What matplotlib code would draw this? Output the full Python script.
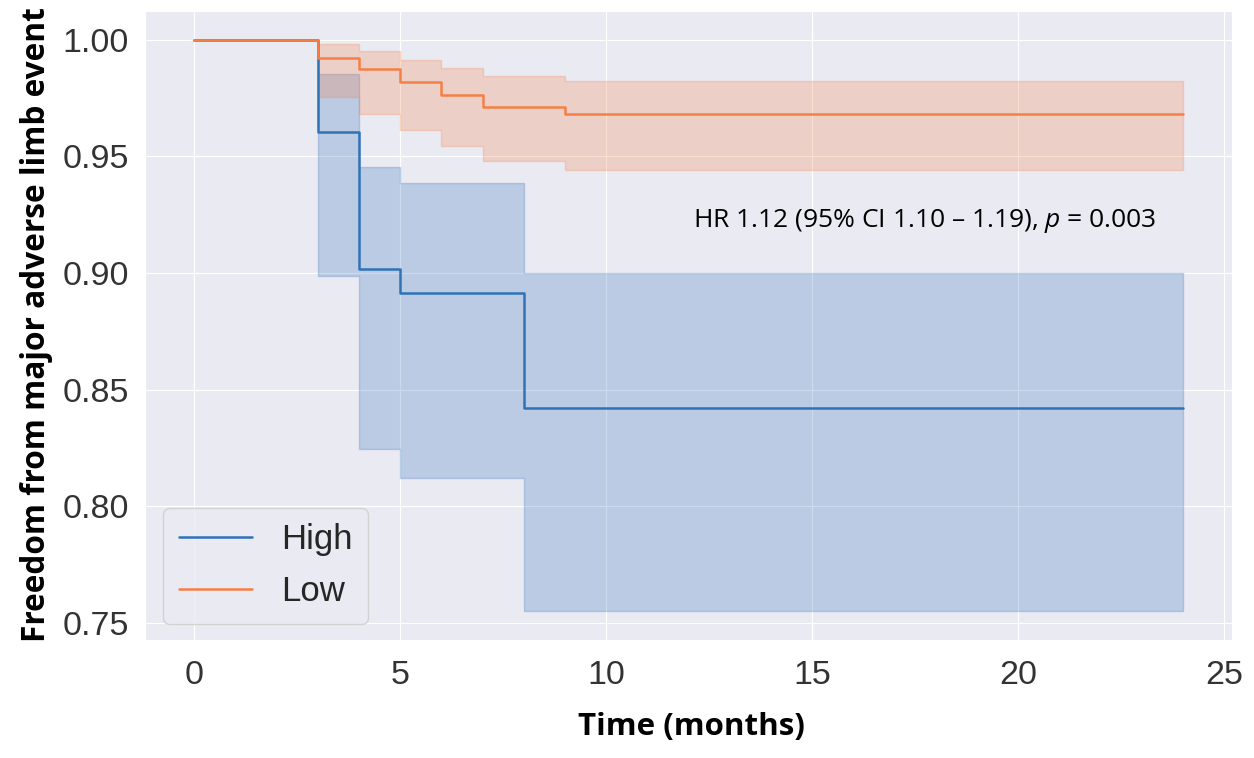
import matplotlib
matplotlib.use("Agg")
import matplotlib.pyplot as plt
import seaborn as sns
import numpy as np

sns.set_style("darkgrid")
plt.rcParams['font.family'] = ['Liberation Sans', 'DejaVu Sans']
plt.rcParams['mathtext.fontset'] = 'custom'
plt.rcParams['mathtext.it'] = 'Open Sans:italic'
plt.rcParams['mathtext.rm'] = 'Open Sans'

# Kaplan-Meier step data (time, survival, CI lower, CI upper)
high_t = [0, 3, 4, 5, 8, 24]
high_s = [1.000, 0.9605, 0.9015, 0.8915, 0.8420, 0.8420]
high_lo = [1.000, 0.8985, 0.8245, 0.8120, 0.7550, 0.7550]
high_hi = [1.000, 0.9852, 0.9455, 0.9385, 0.9000, 0.9000]

low_t = [0, 3, 4, 5, 6, 7, 9, 24]
low_s = [1.000, 0.9922, 0.9873, 0.9818, 0.9762, 0.9713, 0.9683, 0.9683]
low_lo = [1.000, 0.9754, 0.9680, 0.9613, 0.9543, 0.9478, 0.9442, 0.9442]
low_hi = [1.000, 0.9979, 0.9949, 0.9913, 0.9878, 0.9842, 0.9824, 0.9824]

series_labels = ["High", "Low"]
annotation = r"HR 1.12 (95% CI 1.10 – 1.19), $\mathit{p}$ = 0.003"

c_high = "#2f72b8"
c_low = "#f57f45"

fig = plt.figure(figsize=(12.54, 7.58), dpi=100)
ax = fig.add_axes([0.1156, 0.1557, 0.8669, 0.8298])

for t, s, lo, hi, c, lab in [(high_t, high_s, high_lo, high_hi, c_high, series_labels[0]),
                             (low_t, low_s, low_lo, low_hi, c_low, series_labels[1])]:
    ax.fill_between(t, lo, hi, step='post', color=c, alpha=0.25, linewidth=1)
    ax.step(t, s, where='post', color=c, linewidth=1.8, label=lab)

ax.set_xticks([0, 5, 10, 15, 20, 25])
ax.set_yticks([0.75, 0.80, 0.85, 0.90, 0.95, 1.00])
ax.set_yticklabels(["0.75", "0.80", "0.85", "0.90", "0.95", "1.00"])
ax.tick_params(axis='x', labelsize=24.5, pad=11)
ax.tick_params(axis='y', labelsize=24.5, pad=8)
for lab in ax.get_xticklabels() + ax.get_yticklabels():
    lab.set_color('#333333')

ax.set_xlabel("Time (months)", fontsize=22.5, fontweight='bold', family='Open Sans', color='black')
ax.set_ylabel("Freedom from major adverse limb event", fontsize=22.8, fontweight='bold', family='Open Sans', color='black')
ax.xaxis.label.set_va('center')
ax.yaxis.label.set_va('center')
ax.xaxis.set_label_coords(0.503, -0.138)
ax.yaxis.set_label_coords(-0.1, 0.502)

ax.text(12.1, 0.9222, annotation, fontsize=19, family='Open Sans', ha='left', va='center', color='black')

leg = ax.legend(loc='lower left', fontsize=25, handlelength=2.1, handletextpad=0.85,
                borderpad=0.45, labelspacing=0.55, borderaxespad=0,
                bbox_to_anchor=(0.0166, 0.0254))

fig.savefig("out.png", dpi=100)
